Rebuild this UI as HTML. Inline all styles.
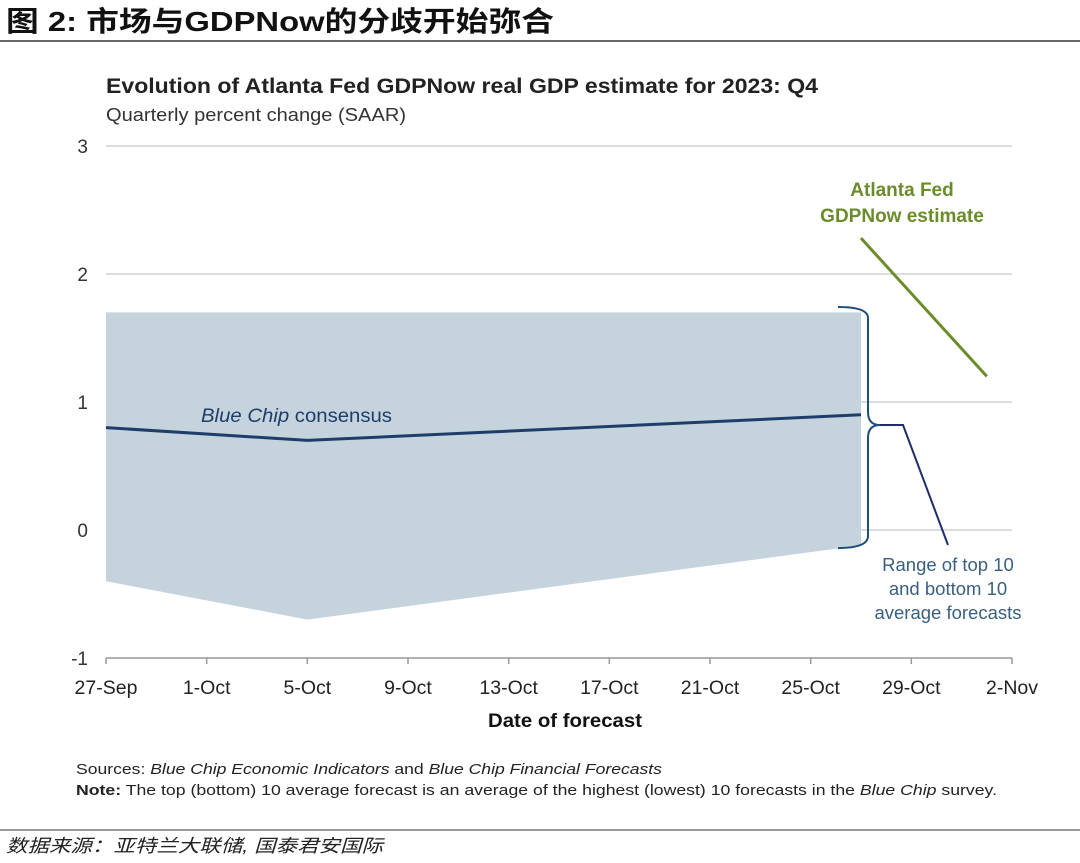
<!DOCTYPE html>
<html><head><meta charset="utf-8"><style>
body{margin:0;background:#fff;width:1080px;height:858px;overflow:hidden;font-family:"Liberation Sans","Noto Sans CJK SC",sans-serif}
</style></head><body>
<svg width="1080" height="858" xmlns="http://www.w3.org/2000/svg">
<text x="6" y="31" font-size="28" font-weight="bold" fill="#111" textLength="548" lengthAdjust="spacingAndGlyphs" font-family="Liberation Sans, Noto Sans CJK SC, sans-serif">图 2:  市场与GDPNow的分歧开始弥合</text>
<line x1="0" y1="41" x2="1080" y2="41" stroke="#333" stroke-width="1.5"/>
<text x="106" y="93" font-size="21" font-weight="bold" fill="#222" textLength="712" lengthAdjust="spacingAndGlyphs">Evolution of Atlanta Fed GDPNow real GDP estimate for 2023: Q4</text>
<text x="106" y="121" font-size="18" fill="#333" textLength="300" lengthAdjust="spacingAndGlyphs">Quarterly percent change (SAAR)</text>
<g id="grid"></g><g id="marks"></g><g id="axes"></g>
<text x="488" y="727" font-size="19" font-weight="bold" fill="#111" textLength="154" lengthAdjust="spacingAndGlyphs">Date of forecast</text>
<text x="201" y="422" font-size="19" fill="#1f3d6b" textLength="191" lengthAdjust="spacingAndGlyphs"><tspan font-style="italic">Blue Chip</tspan> consensus</text>
<text x="902" y="196" font-size="19" font-weight="bold" fill="#6b8c2a" text-anchor="middle">Atlanta Fed</text>
<text x="902" y="222" font-size="19" font-weight="bold" fill="#6b8c2a" text-anchor="middle">GDPNow estimate</text>
<path d="M838,307 Q868,307 868,318 L868,412 Q868,425 880,425 Q868,425 868,438 L868,536 Q868,548 838,548" fill="none" stroke="#1f4e79" stroke-width="2"/>
<polyline points="880,425 903,425 948,545" fill="none" stroke="#1f2d6b" stroke-width="2"/>
<g font-size="18.5" fill="#3a5f80" text-anchor="middle">
<text x="948" y="571">Range of top 10</text><text x="948" y="595">and bottom 10</text><text x="948" y="619">average forecasts</text></g>
<text x="76" y="774" font-size="15" fill="#222" textLength="586" lengthAdjust="spacingAndGlyphs">Sources: <tspan font-style="italic">Blue Chip Economic Indicators</tspan> and <tspan font-style="italic">Blue Chip Financial Forecasts</tspan></text>
<text x="76" y="795" font-size="15" fill="#222" textLength="921" lengthAdjust="spacingAndGlyphs"><tspan font-weight="bold">Note:</tspan> The top (bottom) 10 average forecast is an average of the highest (lowest) 10 forecasts in the <tspan font-style="italic">Blue Chip</tspan> survey.</text>
<line x1="0" y1="830" x2="1080" y2="830" stroke="#333" stroke-width="1"/>
<text x="6" y="852" font-size="18" font-style="italic" fill="#222" textLength="377" lengthAdjust="spacingAndGlyphs" font-family="Liberation Sans, Noto Sans CJK SC, sans-serif">数据来源：亚特兰大联储, 国泰君安国际</text>
</svg>
<script>
const yTicks=[3,2,1,0,-1];
const xTickLabels=["27-Sep","1-Oct","5-Oct","9-Oct","13-Oct","17-Oct","21-Oct","25-Oct","29-Oct","2-Nov"];
const xTickDays=[0,4,8,12,16,20,24,28,32,36];
const bandDays=[0,8,30];
const bandTop=[1.7,1.7,1.7];
const bandBottom=[-0.4,-0.7,-0.12];
const consensusDays=[0,8,30];
const consensusValues=[0.8,0.7,0.9];
const gdpnowDays=[30,35];
const gdpnowValues=[2.28,1.2];
const NS="http://www.w3.org/2000/svg";
const x=d=>106+d*(906/36), y=v=>530-v*128;
const mk=(t,a,p)=>{const e=document.createElementNS(NS,t);for(const k in a)e.setAttribute(k,a[k]);p.appendChild(e);return e;};
const grid=document.getElementById('grid'),marks=document.getElementById('marks'),axes=document.getElementById('axes');
yTicks.forEach(v=>{
 if(v>-1){const l=mk('line',{x1:106,x2:1012,y1:y(v),y2:y(v),stroke:'#d0d0d0','stroke-width':1.5},grid);
 
 }
 const t=mk('text',{x:88,y:y(v)+7,'font-size':19,fill:'#333','text-anchor':'end'},axes);t.textContent=v;
 
 
});
const ax=mk('line',{x1:106,x2:1012,y1:y(-1),y2:y(-1),stroke:'#999','stroke-width':1.5},axes);


xTickLabels.forEach((lab,i)=>{
 const tk=mk('line',{x1:x(xTickDays[i]),x2:x(xTickDays[i]),y1:y(-1),y2:y(-1)+6,stroke:'#999','stroke-width':1.5},axes);
 
 
 const t=mk('text',{x:x(xTickDays[i]),y:694,'font-size':19.5,fill:'#222','text-anchor':'middle'},axes);t.textContent=lab;
 
 
});
let pts=bandDays.map((d,i)=>x(d)+','+y(bandTop[i]));
pts=pts.concat(bandDays.map((d,i)=>x(d)+','+y(bandBottom[i])).reverse());
const band=mk('polygon',{points:pts.join(' '),fill:'#c5d3dc'},marks);


const cl=mk('polyline',{points:consensusDays.map((d,i)=>x(d)+','+y(consensusValues[i])).join(' '),fill:'none',stroke:'#1f3d6b','stroke-width':3},marks);


const gl=mk('polyline',{points:gdpnowDays.map((d,i)=>x(d)+','+y(gdpnowValues[i])).join(' '),fill:'none',stroke:'#6b8c2a','stroke-width':3},marks);


</script>
</body></html>
